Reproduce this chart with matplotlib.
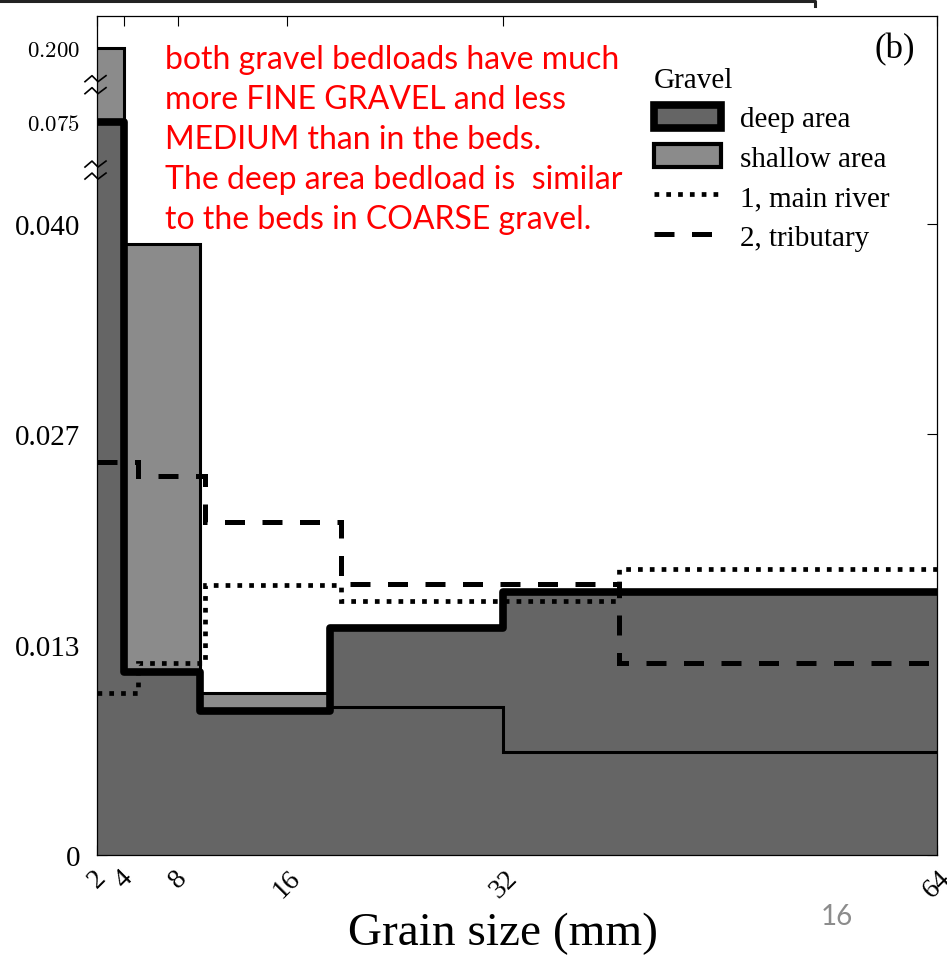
import numpy as np
import matplotlib.pyplot as plt
from matplotlib.patches import Patch
from matplotlib.lines import Line2D

plt.rcParams['font.family'] = 'Liberation Serif'
plt.rcParams['mathtext.fontset'] = 'cm'

# bed-sample bins (deep / shallow area) and bedload bins (main river / tributary)
bed_edges = [2, 4, 9.6, 19.2, 32, 64]
deep_area = [0.075, 0.0116, 0.0091, 0.0144, 0.0167]
shallow_area = [0.200, 0.0387, 0.0103, 0.0094, 0.0065]

load_edges = [2, 5, 10, 20, 40.5, 64]
main_river = [0.0103, 0.0122, 0.0171, 0.0161, 0.0181]
tributary = [0.0249, 0.0240, 0.0211, 0.0172, 0.0122]

x_ticks = [2, 4, 8, 16, 32, 64]
y_ticks = [0, 0.04 / 3, 0.08 / 3, 0.04, 0.075, 0.2]
y_ticklabels = ['0', '0.013', '0.027', '0.040', r'$0.075$', r'$0.200$']
legend_labels = ['deep area', 'shallow area', '1, main river', '2, tributary']

red_note = ("both gravel bedloads have much\n"
            "more FINE GRAVEL and less\n"
            "MEDIUM than in the beds.\n"
            "The deep area bedload is  similar\n"
            "to the beds in COARSE gravel.")

# broken y axis: compress the part above 0.040
y_knots = [-1.0, 0.0, 0.04, 0.075, 0.2, 1.0]
y_pos = [-15775.0, 0.0, 631.0, 733.0, 807.0, 807.0 + 0.8 * 592]


def fwd(v):
    return np.interp(v, y_knots, y_pos)


def inv(p):
    return np.interp(p, y_pos, y_knots)


dark = '#656565'
light = '#8b8b8b'

fig = plt.figure(figsize=(9.47, 9.62), dpi=100)
ax = fig.add_axes([97 / 947, 106 / 962, 840 / 947, 839 / 962])
ax.set_yscale('function', functions=(fwd, inv))

ax.stairs(shallow_area, bed_edges, fill=True, color=light, lw=0, zorder=1)
ax.stairs(deep_area, bed_edges, fill=True, color=dark, lw=0, zorder=2)
ax.stairs(shallow_area, bed_edges, baseline=None, color='black', lw=2.2, zorder=3)
ax.stairs(deep_area, bed_edges, baseline=None, color='black', lw=5.5,
          joinstyle='round', zorder=4)
ax.stairs(main_river, load_edges, baseline=None, color='black', lw=3.4,
          linestyle=(0, (1, 1.5)), zorder=5)
ax.stairs(tributary, load_edges, baseline=None, color='black', lw=3.6,
          linestyle=(0, (4, 3.5)), zorder=5)

ax.set_xlim(2, 64)
ax.set_ylim(0, 0.254)

ax.set_xticks(x_ticks)
ax.set_xticklabels([str(t) for t in x_ticks], rotation=45, fontsize=20,
                   ha='center', va='top')
ax.set_yticks(y_ticks)
ax.set_yticklabels(y_ticklabels, fontsize=21)
ax.tick_params(direction='in', top=True, right=True, length=7, width=0.8)
ax.tick_params(axis='x', pad=7)
ax.tick_params(axis='y', pad=12)
for t in ax.yaxis.get_major_ticks()[4:]:
    t.tick1line.set_visible(False)
    t.tick2line.set_visible(False)
    t.label1.set_fontsize(16.5)
for s in ax.spines.values():
    s.set_linewidth(0.9)

# break marks on the left spine
ymin, ymax = ax.get_ylim()
for v in [0.0585, 0.138]:
    yf = (fwd(v) - fwd(ymin)) / (fwd(ymax) - fwd(ymin))
    for off in [-6, 6]:
        zx = np.array([-12, -5, 1, 9]) / 840
        zy = yf + (np.array([-3, 3, -3, 3]) + off) / 839
        ax.plot(zx, zy, color='black', lw=1.2, transform=ax.transAxes,
                clip_on=False, zorder=10)

ax.set_xlabel('Grain size (mm)', fontsize=34)
ax.xaxis.set_label_coords((503 - 97) / 840, -0.068)

ax.text(0.974, 0.961, '(b)', transform=ax.transAxes, ha='right', va='center',
        fontsize=25)

handles = [Patch(facecolor=dark, edgecolor='black', lw=5.5),
           Patch(facecolor=light, edgecolor='black', lw=3),
           Line2D([], [], color='black', lw=3.4, ls=(0, (1, 1.5))),
           Line2D([], [], color='black', lw=3.6, ls=(0, (4, 3.5)))]
ax.legend(handles, legend_labels, title='Gravel', loc='upper left',
          bbox_to_anchor=(654 / 947, 1 - 68 / 962), bbox_transform=fig.transFigure,
          frameon=False, fontsize=21, title_fontsize=21, alignment='left',
          handlelength=2.3, handleheight=0.85, handletextpad=0.65,
          labelspacing=0.4, borderaxespad=0, borderpad=0)

fig.text(165 / 947, 1 - 45 / 962, red_note, color='red', family='Lato',
         fontsize=23, va='top', ha='left', linespacing=1.42)

fig.text(837 / 947, 1 - 917 / 962, '16', family='Lato', color='#8c8c8c',
         fontsize=20, ha='center', va='center')

fig.add_artist(Line2D([0, 815 / 947, 815 / 947], [1 - 1.5 / 962, 1 - 1.5 / 962, 1 - 7 / 962],
                      color='#222222', lw=2.2, transform=fig.transFigure))

fig.savefig('out.png', dpi=100)
